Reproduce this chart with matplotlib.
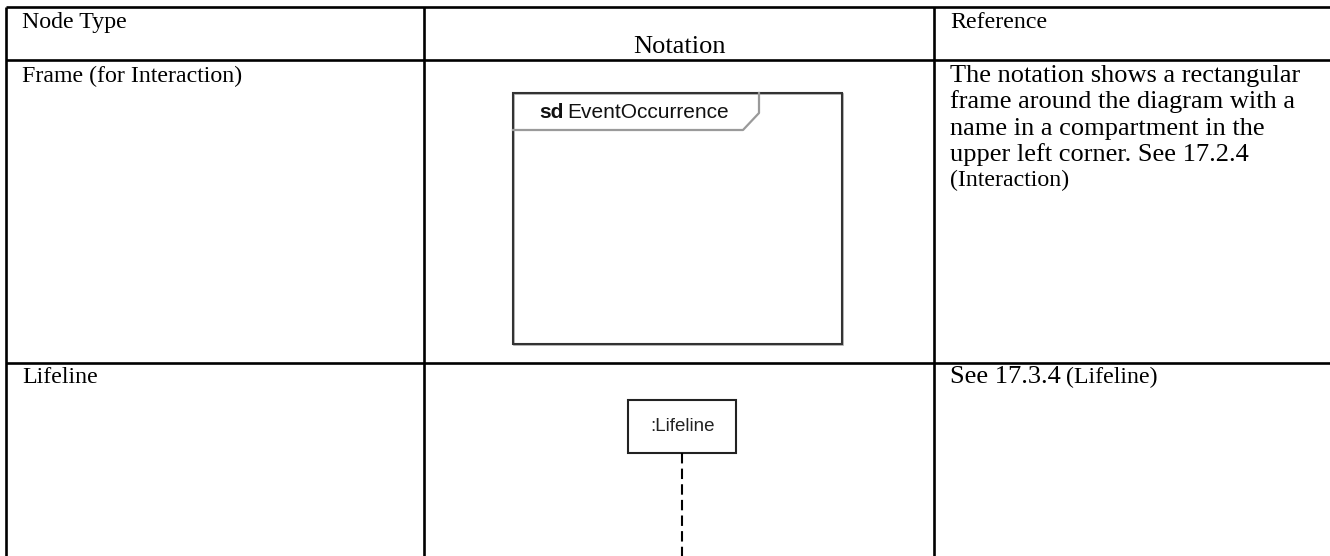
import matplotlib.pyplot as plt
from matplotlib.patches import Rectangle

# Table content
headers = ['Node Type', 'Notation', 'Reference']
node_types = ['Frame (for Interaction)', 'Lifeline']
ref_lines = [
    ['The notation shows a rectangular', 'frame around the diagram with a',
     'name in a compartment in the', 'upper left corner. See 17.2.4'],
    ['See 17.3.4'],
]
ref_tails = ['(Interaction)', '(Lifeline)']
frame_kw, frame_name = 'sd', 'EventOccurrence'
lifeline_name = ':Lifeline'

# Layout in pixels (figure is drawn 1:1 in pixel space)
W, H = 1330, 556
col_x = [6, 424, 934]
row_y = [7, 60, 363]
pad_x = 16
serif = 'Liberation Serif'
sans = 'Liberation Sans'
small, large = 17.2, 19.0
line_step = 26.3

fig = plt.figure(figsize=(W / 100, H / 100), dpi=100)
ax = fig.add_axes([0, 0, 1, 1])
ax.set_xlim(0, W)
ax.set_ylim(H, 0)
ax.axis('off')

# grid lines
lw = 1.9
for y in row_y:
    ax.plot([col_x[0], W], [y, y], color='black', lw=lw, solid_capstyle='butt')
for x in col_x:
    ax.plot([x, x], [row_y[0], H], color='black', lw=lw, solid_capstyle='butt')

# header row
ax.text(col_x[0] + pad_x, 28, headers[0], family=serif, fontsize=small, va='baseline')
ax.text((col_x[1] + col_x[2]) / 2, 53, headers[1], family=serif, fontsize=large,
        va='baseline', ha='center')
ax.text(col_x[2] + pad_x, 28, headers[2], family=serif, fontsize=small, va='baseline')

# body rows: node type + reference text
row_base = [82, 383]
tails = []
for i, name in enumerate(node_types):
    ax.text(col_x[0] + pad_x, row_base[i], name, family=serif, fontsize=small,
            va='baseline')
    lines = ref_lines[i]
    last = None
    for k, ln in enumerate(lines):
        last = ax.text(col_x[2] + pad_x, row_base[i] + k * line_step, ln,
                       family=serif, fontsize=large, va='baseline')
    tails.append((i, len(lines), last))

fig.canvas.draw()
r = fig.canvas.get_renderer()
# "(Interaction)" sits on its own line, "(Lifeline)" follows on the same line
for i, n, last in tails:
    if i == 0:
        ax.text(col_x[2] + pad_x, row_base[i] + n * line_step - 1, ref_tails[i],
                family=serif, fontsize=small, va='baseline')
    else:
        bb = last.get_window_extent(r)
        ax.text(bb.x1 + 5, row_base[i], ref_tails[i], family=serif,
                fontsize=small, va='baseline')

# Frame notation
fx0, fy0, fx1, fy1 = 513, 93, 842, 344
ax.add_patch(Rectangle((fx0 + 1, fy0 + 1), fx1 - fx0, fy1 - fy0, fill=False,
                       edgecolor='#aaaaaa', lw=1.2))
ax.add_patch(Rectangle((fx0, fy0), fx1 - fx0, fy1 - fy0, fill=False,
                       edgecolor='#333333', lw=1.5))
ax.plot([fx0, 743, 759, 759], [130, 130, 113, fy0], color='#9a9a9a', lw=1.6)
kw = ax.text(539, 118, frame_kw, family=sans, fontsize=15, fontweight='bold',
             va='baseline', color='#111111')
fig.canvas.draw()
bb = kw.get_window_extent(fig.canvas.get_renderer())
ax.text(bb.x1 + 4, 118, frame_name, family=sans, fontsize=15, va='baseline',
        color='#111111')

# Lifeline notation
lx0, ly0, lx1, ly1 = 628, 400, 736, 453
ax.add_patch(Rectangle((lx0, ly0), lx1 - lx0, ly1 - ly0, fill=False,
                       edgecolor='#222222', lw=1.5))
ax.text((lx0 + lx1) / 2, (ly0 + ly1) / 2, lifeline_name, family=sans,
        fontsize=13.5, ha='center', va='center', color='#222222')
ax.plot([682, 682], [ly1, H], color='black', lw=1.5, dashes=(5, 2.5))

fig.savefig('out.png', dpi=100)
